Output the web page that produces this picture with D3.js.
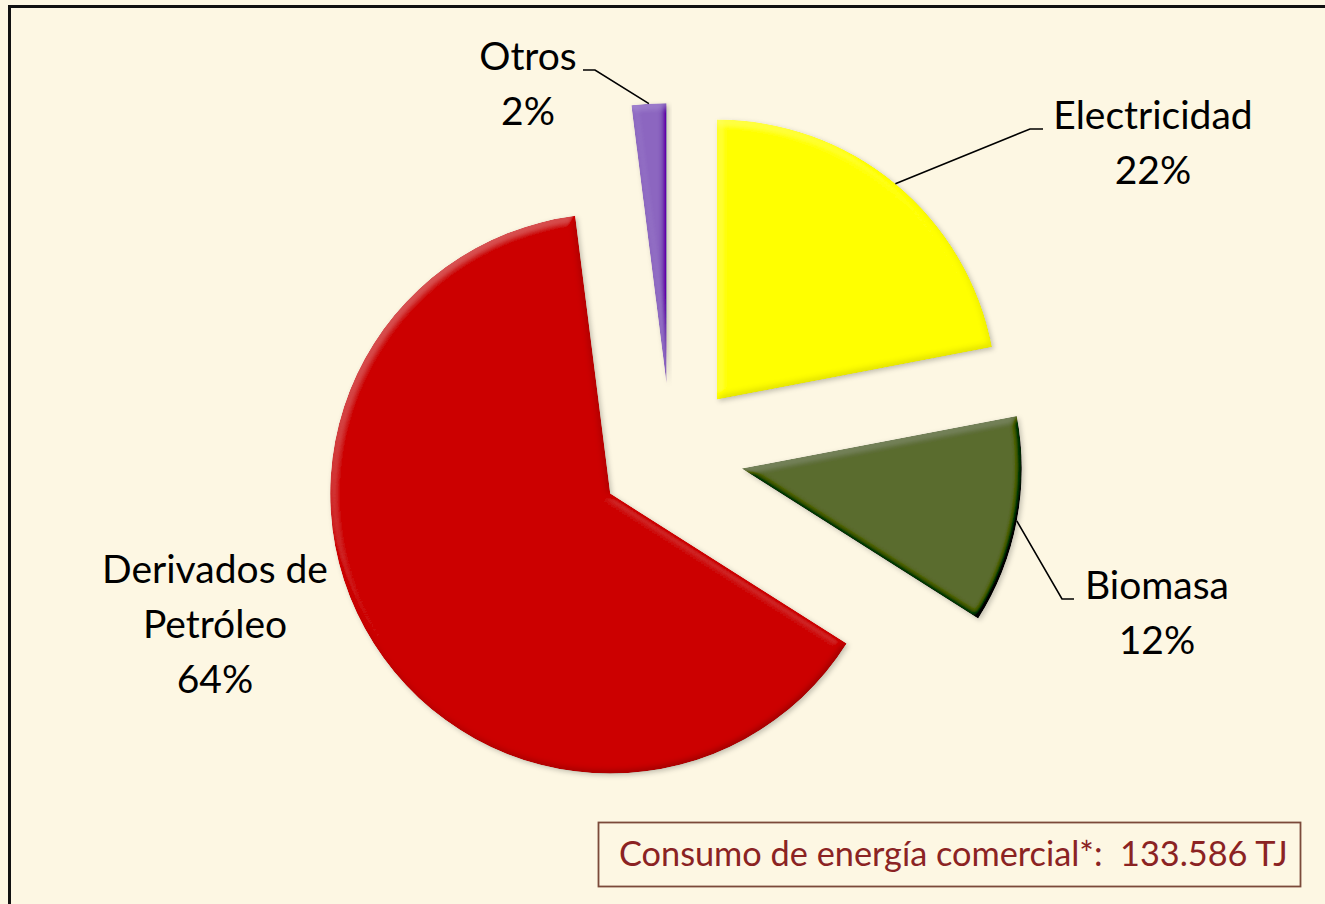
<!DOCTYPE html>
<html>
<head>
<meta charset="utf-8">
<script src="https://cdn.jsdelivr.net/npm/d3@7"></script>
<style>
  html, body { margin: 0; padding: 0; background: #fdf7e3; }
  svg { display: block; }
</style>
</head>
<body>
<div id="chart"></div>
<script>
// data
var categories = ["Electricidad", "Biomasa", "Derivados de\nPetróleo", "Otros"];
var shares = [22, 12, 64, 2];
var shareLabels = ["22%", "12%", "64%", "2%"];
var sliceColours = ["#ffff00", "#5a6b2f", "#cc0404", "#8c66c0"];
var footnote = "Consumo de energía comercial*:  133.586 TJ";

var width = 1325, height = 904;
var cx = 671, cy = 455, radius = 280, explode = 72;

// where each label sits (centre x, first baseline y) and its leader elbow
var labelLayout = [
    {x: 1153, y: 129, elbow: [1030, 129], end: [1043, 129]},
    {x: 1157, y: 599, elbow: [1062, 599], end: [1074, 599]},
    {x: 215,  y: 583, elbow: null, end: null},
    {x: 528,  y: 70,  elbow: [595, 70], end: [583, 70]}
];

var svg = d3.select("#chart").append("svg")
    .attr("width", width)
    .attr("height", height);

var defs = svg.append("defs");
var f = defs.append("filter")
    .attr("id", "bevel")
    .attr("x", "-10%").attr("y", "-10%")
    .attr("width", "125%").attr("height", "125%");

var elev = 55;
f.append("feGaussianBlur").attr("in", "SourceAlpha").attr("stdDeviation", 3.5).attr("result", "blur");
var lt = f.append("feDiffuseLighting")
    .attr("in", "blur")
    .attr("surfaceScale", 3)
    .attr("diffuseConstant", 1)
    .attr("lighting-color", "#ffffff")
    .attr("result", "diff");
lt.append("feDistantLight").attr("azimuth", 235).attr("elevation", elev);
f.append("feComposite")
    .attr("in", "SourceGraphic").attr("in2", "diff")
    .attr("operator", "arithmetic")
    .attr("k1", 0).attr("k2", 1).attr("k3", 0.45).attr("k4", -0.45 * Math.sin(elev * Math.PI / 180))
    .attr("result", "lit");
f.append("feComposite").attr("in", "lit").attr("in2", "SourceAlpha").attr("operator", "in").attr("result", "litShape");
f.append("feGaussianBlur").attr("in", "SourceAlpha").attr("stdDeviation", 2.5).attr("result", "sblur");
f.append("feOffset").attr("in", "sblur").attr("dx", 2).attr("dy", 2).attr("result", "soff");
f.append("feFlood").attr("flood-color", "#000").attr("flood-opacity", 0.22).attr("result", "sc");
f.append("feComposite").attr("in", "sc").attr("in2", "soff").attr("operator", "in").attr("result", "shadow");
var merge = f.append("feMerge");
merge.append("feMergeNode").attr("in", "shadow");
merge.append("feMergeNode").attr("in", "litShape");

// frame
svg.append("rect")
    .attr("x", 9.5).attr("y", 6.5)
    .attr("width", width + 20).attr("height", height + 20)
    .attr("fill", "#fdf7e3")
    .attr("stroke", "#111")
    .attr("stroke-width", 3);

var slices = d3.pie().sort(null).value(function(d){ return d; })(shares);
var arc = d3.arc().innerRadius(0).outerRadius(radius);

function offset(a, dist) {
    return [Math.sin(a) * dist, -Math.cos(a) * dist];
}

var g = svg.append("g").attr("transform", "translate(" + cx + "," + cy + ")");

g.selectAll("path.slice")
    .data(slices)
    .enter().append("path")
    .attr("class", "slice")
    .attr("d", arc)
    .attr("fill", function(d, i){ return sliceColours[i]; })
    .attr("filter", "url(#bevel)")
    .attr("transform", function(d){
        var o = offset((d.startAngle + d.endAngle) / 2, explode);
        return "translate(" + o[0] + "," + o[1] + ")";
    });

// leader lines
slices.forEach(function(d, i){
    var lay = labelLayout[i];
    if (!lay.elbow) return;
    var p = offset((d.startAngle + d.endAngle) / 2, radius + explode);
    svg.append("polyline")
        .attr("points", [[cx + p[0], cy + p[1]], lay.elbow, lay.end].map(function(q){ return q.join(","); }).join(" "))
        .attr("fill", "none")
        .attr("stroke", "#000")
        .attr("stroke-width", 1.6);
});

// labels
categories.forEach(function(name, i){
    var lay = labelLayout[i];
    var lines = name.split("\n").concat([shareLabels[i]]);
    var t = svg.append("text")
        .attr("text-anchor", "middle")
        .style("font-family", "Lato, 'Open Sans', sans-serif")
        .style("font-size", "39px")
        .attr("fill", "#000");
    lines.forEach(function(l, j){
        t.append("tspan").attr("x", lay.x).attr("y", lay.y + j * 55).text(l);
    });
});

// footnote box
svg.append("rect")
    .attr("x", 598.5).attr("y", 822.5)
    .attr("width", 702).attr("height", 64)
    .attr("fill", "#fdf7e3")
    .attr("stroke", "#7b4a3a")
    .attr("stroke-width", 1.8);

var ft = svg.append("text")
    .attr("x", 619).attr("y", 866)
    .style("font-family", "Lato, 'Open Sans', sans-serif")
    .style("font-size", "30px")
    .style("white-space", "pre")
    .attr("fill", "#8b2323")
    .text(footnote);
var w = ft.node().getComputedTextLength();
ft.style("font-size", (30 * 668 / w).toFixed(1) + "px");
</script>
</body>
</html>
